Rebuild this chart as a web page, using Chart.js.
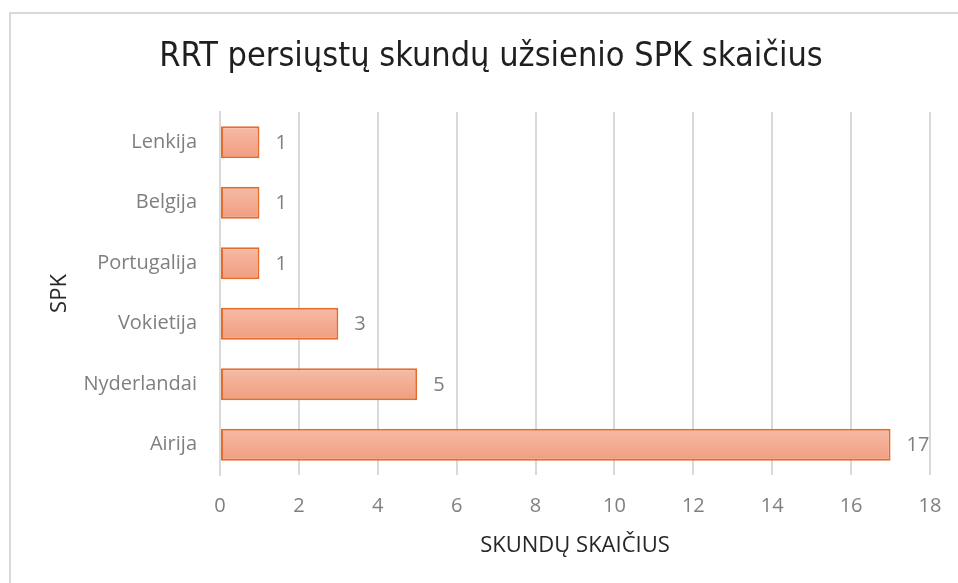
<!DOCTYPE html>
<html>
<head>
<meta charset="utf-8">
<script src="https://cdn.jsdelivr.net/npm/chart.js@4/dist/chart.umd.min.js"></script>
<style>
  html, body { margin: 0; padding: 0; background: #fff; overflow: hidden; }
  #frame { position: absolute; left: 9px; top: 12px; width: 1000px; height: 640px; border: 2px solid #d9d9d9; box-sizing: border-box; }
  #c { position: absolute; left: 0; top: 0; }
</style>
</head>
<body>
<div id="frame"></div>
<canvas id="c" width="958" height="583"></canvas>
<script>
const categories = ["Lenkija", "Belgija", "Portugalija", "Vokietija", "Nyderlandai", "Airija"];
const values = [1, 1, 1, 3, 5, 17];
const xTicks = [0, 2, 4, 6, 8, 10, 12, 14, 16, 18];
const chartTitle = "RRT persiųstų skundų užsienio SPK skaičius";
const xTitle = "SKUNDŲ SKAIČIUS";
const yTitle = "SPK";

const PLOT_LEFT = 220, PLOT_TOP = 112, PLOT_BOTTOM = 475, PAD_L = 52, PAD_R = 28;
const BAR_PCT = 0.53;
const baseFont = "'Open Sans', Lato, sans-serif";
const TITLE_SIZE = 34;

const labelPlugin = {
  id: 'barValues',
  afterDatasetsDraw(chart) {
    const ctx = chart.ctx;
    const meta = chart.getDatasetMeta(0);
    ctx.save();
    ctx.font = "20px " + baseFont;
    ctx.fillStyle = "#7f7f7f";
    ctx.textAlign = "left";
    ctx.textBaseline = "middle";
    meta.data.forEach((bar, i) => {
      ctx.fillText(String(values[i]), bar.x + 16, bar.y + 1);
    });
    ctx.restore();
  }
};

new Chart(document.getElementById('c'), {
  type: 'bar',
  data: {
    labels: categories,
    datasets: [{
      data: values,
      borderColor: '#e66c2c',
      borderWidth: 2,
      borderSkipped: false,
      categoryPercentage: 1,
      barPercentage: BAR_PCT,
      backgroundColor(ctx) {
        const chart = ctx.chart;
        const ys = chart.scales && chart.scales.y;
        if (!chart.chartArea || !ys || ctx.dataIndex === undefined) return '#f3ab91';
        const cy = ys.getPixelForValue(ctx.dataIndex);
        const h = (ys.height / categories.length) * BAR_PCT;
        if (!Number.isFinite(cy) || !Number.isFinite(h)) return '#f3ab91';
        const g = chart.ctx.createLinearGradient(0, cy - h / 2, 0, cy + h / 2);
        g.addColorStop(0, '#f6bba6');
        g.addColorStop(1, '#f09d7f');
        return g;
      }
    }]
  },
  options: {
    indexAxis: 'y',
    responsive: false,
    animation: false,
    layout: { padding: { left: PAD_L, right: PAD_R, top: 0, bottom: 0 } },
    plugins: {
      legend: { display: false },
      tooltip: { enabled: false },
      title: {
        display: true,
        text: chartTitle,
        color: '#1f1f1f',
        font: { size: TITLE_SIZE, family: "'Liberation Sans Narrow', 'DejaVu Sans Condensed', sans-serif", weight: 'normal', lineHeight: 1.2 },
        padding: { top: 57 - TITLE_SIZE * 0.6, bottom: PLOT_TOP - (57 - TITLE_SIZE * 0.6) - TITLE_SIZE * 1.2 }
      }
    },
    scales: {
      x: {
        min: 0, max: 18,
        afterBuildTicks(scale) { scale.ticks = xTicks.map(v => ({ value: v })); },
        afterFit(scale) { scale.height = 583 - PLOT_BOTTOM; scale.paddingLeft = 0; scale.paddingRight = 0; },
        grid: { color: '#d9d9d9', lineWidth: 2, drawTicks: false },
        border: { display: false },
        ticks: { color: '#7f7f7f', font: { size: 20, family: baseFont }, padding: 19 },
        title: { display: true, text: xTitle, color: '#262626', font: { size: 22, family: baseFont }, padding: { top: 0, bottom: 24 } }
      },
      y: {
        afterFit(scale) { scale.width = PLOT_LEFT - PAD_L; },
        grid: { display: false, drawTicks: false },
        border: { display: true, color: '#d9d9d9', width: 2 },
        ticks: { color: '#7f7f7f', font: { size: 20, family: baseFont }, padding: 23 },
        title: { display: true, text: yTitle, color: '#262626', font: { size: 22, family: baseFont }, padding: { top: -5, bottom: 0 } }
      }
    }
  },
  plugins: [labelPlugin]
});
</script>
</body>
</html>
